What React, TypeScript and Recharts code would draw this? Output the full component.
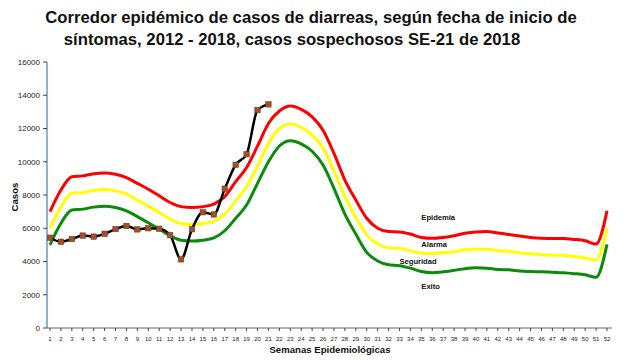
import React from 'react';
import { LineChart, Line, XAxis, YAxis, ReferenceDot } from 'recharts';

const weeks = [1,2,3,4,5,6,7,8,9,10,11,12,13,14,15,16,17,18,19,20,21,22,23,24,25,26,27,28,29,30,31,32,33,34,35,36,37,38,39,40,41,42,43,44,45,46,47,48,49,50,51,52];

const epidemia = [7000, 8300, 9100, 9150, 9280, 9330, 9250, 9050, 8700, 8350, 7950, 7550, 7300, 7250, 7300, 7450, 7900, 8800, 9650, 10950, 12300, 13050, 13350, 13150, 12700, 11900, 10500, 8900, 7700, 6600, 6000, 5800, 5780, 5650, 5450, 5400, 5450, 5550, 5700, 5780, 5800, 5720, 5620, 5530, 5450, 5400, 5380, 5380, 5330, 5250, 5050, 7050];

const alarma = [6000, 7300, 8100, 8150, 8270, 8330, 8250, 8050, 7700, 7330, 6950, 6550, 6280, 6230, 6280, 6420, 6850, 7650, 8500, 9750, 11100, 12000, 12270, 12070, 11620, 10820, 9450, 7900, 6650, 5600, 5050, 4830, 4790, 4650, 4500, 4480, 4520, 4600, 4700, 4750, 4730, 4650, 4620, 4530, 4460, 4400, 4380, 4380, 4300, 4230, 4080, 6030];

const seguridad = [5000, 6300, 7100, 7150, 7270, 7330, 7250, 7050, 6700, 6330, 5950, 5550, 5280, 5230, 5280, 5420, 5850, 6600, 7400, 8700, 10000, 10950, 11270, 11080, 10630, 9800, 8400, 6850, 5650, 4550, 4030, 3800, 3750, 3600, 3400, 3330, 3380, 3470, 3570, 3620, 3600, 3520, 3500, 3430, 3400, 3380, 3350, 3320, 3270, 3200, 3050, 5030];

const casos2018 = [5430, 5190, 5350, 5560, 5500, 5670, 5950, 6140, 5930, 6000, 5970, 5580, 4130, 5940, 6960, 6830, 8380, 9820, 10450, 13110, 13450];

const yTicks = [0, 2000, 4000, 6000, 8000, 10000, 12000, 14000, 16000];

const zoneLabels = [
  { text: 'Epidemia', week: 35, value: 6620 },
  { text: 'Alarma', week: 35, value: 5040 },
  { text: 'Seguridad', week: 33, value: 3990 },
  { text: 'Exito', week: 35, value: 2480 },
];

const data = weeks.map((w, i) => ({
  week: w,
  epidemia: epidemia[i],
  alarma: alarma[i],
  seguridad: seguridad[i],
  casos: i < casos2018.length ? casos2018[i] : null,
}));

const FONT = '"Liberation Sans", Arial, Helvetica, sans-serif';
const BLUE = '#5B9BD5';

const SquareDot = (props: any) => {
  const { cx, cy, index } = props;
  if (cx == null || cy == null) return <g key={`d-${index}`} />;
  return (
    <rect
      key={`d-${index}`}
      x={cx - 2.7}
      y={cy - 2.7}
      width={5.4}
      height={5.4}
      fill="#A0502A"
      stroke="#7A3A1C"
      strokeWidth={0.6}
    />
  );
};

export default function App() {
  return (
    <div style={{ position: 'absolute', left: 0, top: 0, width: 627, height: 360, background: '#fff', fontFamily: FONT }}>
      <div style={{ position: 'absolute', left: 0, top: 7, width: 622, textAlign: 'center', fontSize: 16.7, fontWeight: 'bold', lineHeight: '22px', color: '#111', whiteSpace: 'nowrap' }}>
        Corredor epidémico de casos de diarreas, según fecha de inicio de
      </div>
      <div style={{ position: 'absolute', left: 0, top: 29, width: 584, textAlign: 'center', fontSize: 16.7, fontWeight: 'bold', lineHeight: '22px', color: '#111', whiteSpace: 'nowrap' }}>
        síntomas, 2012 - 2018, casos sospechosos SE-21 de 2018
      </div>
      <div style={{ position: 'absolute', left: 0, top: 0 }}>
        <LineChart width={627} height={360} data={data} margin={{ top: 62, right: 15, bottom: 0, left: 0 }}>
          <XAxis
            dataKey="week"
            type="category"
            interval={0}
            padding={{ left: 3, right: 5 }}
            height={32}
            tickSize={3}
            tickMargin={6}
            tick={{ fontSize: 6, fill: '#222', fontFamily: FONT }}
            axisLine={{ stroke: '#666', strokeWidth: 1 }}
            tickLine={{ stroke: '#444' }}
            label={(p: any) => (
              <text x={330} y={349} textAnchor="middle" dominantBaseline="central" fontSize={9.6} fontWeight="bold" fontFamily={FONT} fill="#111">
                Semanas Epidemiológicas
              </text>
            )}
          />
          <XAxis
            xAxisId="top"
            dataKey="week"
            orientation="top"
            height={0}
            tick={false}
            tickLine={false}
            axisLine={{ stroke: BLUE, strokeWidth: 1 }}
          />
          <YAxis
            domain={[0, 16000]}
            ticks={yTicks}
            interval={0}
            width={47}
            tickSize={4}
            tickMargin={3}
            tick={{ fontSize: 8, fill: '#222', fontFamily: FONT }}
            axisLine={{ stroke: BLUE, strokeWidth: 1.5 }}
            tickLine={{ stroke: '#444' }}
            label={(p: any) => (
              <text x={14} y={197} transform="rotate(-90 14 197)" textAnchor="middle" dominantBaseline="central" fontSize={9.6} fontWeight="bold" fontFamily={FONT} fill="#111">
                Casos
              </text>
            )}
          />
          <YAxis
            yAxisId="right"
            orientation="right"
            domain={[0, 16000]}
            width={0}
            tick={false}
            tickLine={false}
            axisLine={{ stroke: BLUE, strokeWidth: 1 }}
          />
          <Line type="monotone" dataKey="seguridad" stroke="#0B8A0B" strokeWidth={3} dot={false} isAnimationActive={false} />
          <Line type="monotone" dataKey="alarma" stroke="#FFFF00" strokeWidth={3} dot={false} isAnimationActive={false} />
          <Line type="monotone" dataKey="epidemia" stroke="#FF0000" strokeWidth={3} dot={false} isAnimationActive={false} />
          <Line type="monotone" dataKey="casos" stroke="#000000" strokeWidth={2.5} dot={<SquareDot />} isAnimationActive={false} />
          {zoneLabels.map((z) => (
            <ReferenceDot
              key={z.text}
              x={z.week}
              y={z.value}
              r={0}
              ifOverflow="visible"
              shape={(p: any) => (
                <text x={p.cx} y={p.cy} textAnchor="start" dominantBaseline="central" fontSize={7.6} fontWeight="bold" fontFamily={FONT} fill="#111">
                  {z.text}
                </text>
              )}
            />
          ))}
        </LineChart>
      </div>
    </div>
  );
}
